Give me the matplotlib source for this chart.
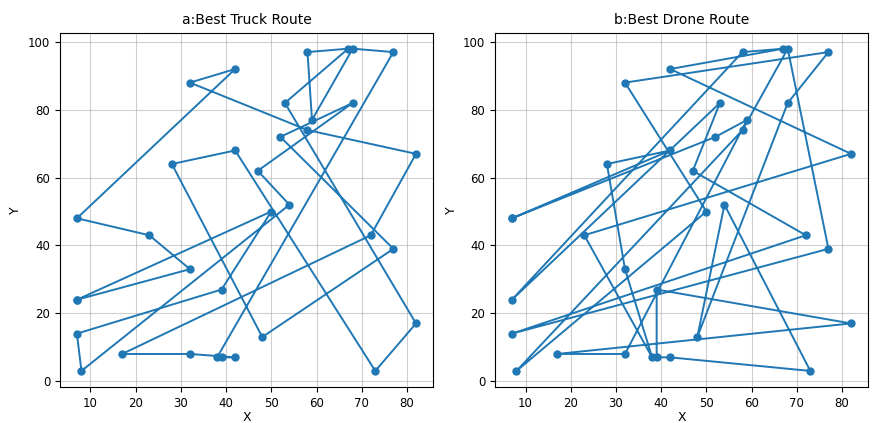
import matplotlib
matplotlib.use("Agg")
import matplotlib.pyplot as plt

# city coordinates
names = ["A","B","C","D","E","F","G","H","I","J","K","L","M","N","O","P","Q","R",
         "S","T","U","V","W","X","Y","Z","AA","AB","AC","AD","AE","AF","AG","AH"]
city_x = [7, 23, 32, 7, 39, 7, 8, 17, 32, 38, 39, 42, 48, 42, 32, 28, 42, 47,
          50, 54, 53, 58, 67, 68, 77, 59, 58, 52, 68, 82, 72, 77, 82, 73]
city_y = [48, 43, 33, 24, 27, 14, 3, 8, 8, 7, 7, 7, 13, 92, 88, 64, 68, 62,
          50, 52, 82, 97, 98, 98, 97, 77, 74, 72, 82, 67, 43, 39, 17, 3]

truck_order = ["D","S","E","F","G","T","R","AC","AB","AF","M","P","Q","AH","AG","U","W","V",
               "Z","X","Y","J","K","L","I","H","AE","AD","AA","O","N","A","B","C","D"]
drone_order = ["A","Q","P","C","J","B","AD","N","W","V","D","U","R","AE","F","AF","X","AA",
               "G","S","O","Y","AC","M","T","AH","L","K","E","AG","H","I","Z","AB","A"]

idx = {n: i for i, n in enumerate(names)}

fig = plt.figure(figsize=(8.78, 4.23), dpi=100)
ax1 = fig.add_axes([0.0683, 0.085, 0.4248, 0.838])
ax2 = fig.add_axes([0.5638, 0.085, 0.4248, 0.838])

for ax, order, title in [(ax1, truck_order, "a:Best Truck Route"),
                         (ax2, drone_order, "b:Best Drone Route")]:
    xs = [city_x[idx[n]] for n in order]
    ys = [city_y[idx[n]] for n in order]
    ax.plot(xs, ys, "-o", color="#1f77b4", markersize=5, linewidth=1.4)
    ax.set_title(title, fontsize=10)
    ax.set_xlabel("X", fontsize=9, labelpad=1)
    ax.set_ylabel("Y", fontsize=9)
    ax.tick_params(labelsize=8.5)
    ax.grid(True, color="#b0b0b0", linewidth=0.8, alpha=0.6)

fig.savefig("out.png", dpi=100)
